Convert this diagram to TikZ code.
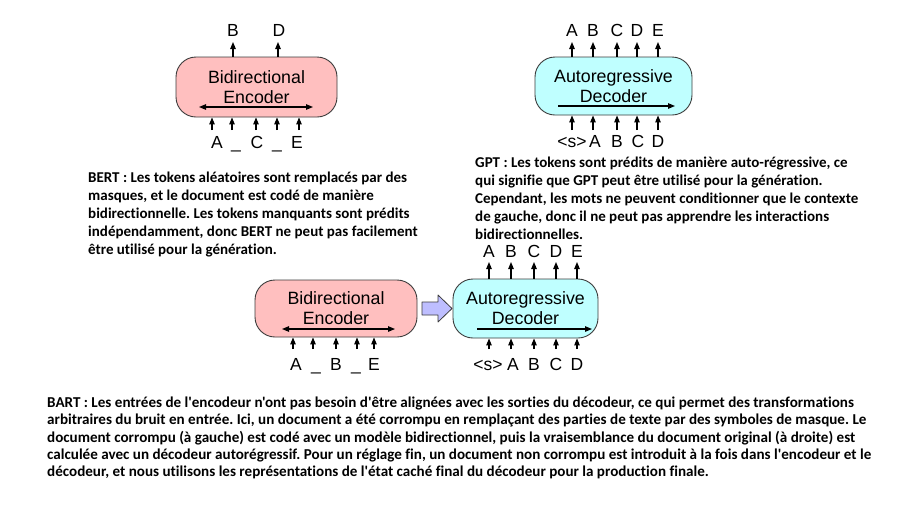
\documentclass[tikz,border=0pt]{standalone}
\usepackage{fontspec}
\setmainfont{Liberation Sans}
\newfontfamily\parafont[Ligatures=NoCommon]{Carlito}
\usetikzlibrary{arrows.meta,calc}
\definecolor{encpink}{RGB}{255,191,191}
\definecolor{deccyan}{RGB}{191,255,255}
\definecolor{blkblue}{RGB}{190,190,255}
\definecolor{edgegray}{RGB}{60,60,60}
\frenchspacing
\begin{document}
\begin{tikzpicture}[x=1pt,y=-1pt,
  box/.style={draw=edgegray,line width=0.9pt,rounded corners=20pt,align=center,
    font=\fontsize{17.8}{20}\selectfont,inner sep=0pt},
  arr/.style={-{Triangle[length=7pt,width=5.5pt]},line width=1.1pt,black},
  darr/.style={{Triangle[length=7pt,width=5.5pt]}-{Triangle[length=7pt,width=5.5pt]},line width=1.1pt,black},
  tok/.style={font=\fontsize{17.5}{20}\selectfont,inner sep=0pt,anchor=base},
  para/.style={font=\parafont\bfseries\fontsize{15}{18}\selectfont\frenchspacing,align=left,anchor=north west,inner sep=0pt},
  paratwo/.style={font=\parafont\bfseries\fontsize{15.1}{17.1}\selectfont\frenchspacing,align=left,anchor=north west,inner sep=0pt}]
\useasboundingbox (0,0) rectangle (907,507);
\fill[white] (0,0) rectangle (907,507);

% ---------------- BERT ----------------
\node[box,fill=encpink,minimum width=161pt,minimum height=60pt] (bert) at (256.5,87) {Bidirectional\\Encoder};
\coordinate (bertl) at (199,107);
\coordinate (bertr) at (313,107);
\draw[darr] (bertl) -- (bertr);
\foreach \x/\n in {233/1,278/2}{
  \coordinate (bo\n) at (\x,42);
  \draw[arr] (bo\n |- bert.north) -- (bo\n);
}
\node[tok] (bB) at (233,36) {B};
\node[tok] (bD) at (279,36) {D};
\foreach \x/\n in {212/1,232/2,256/3,277/4,299/5}{
  \coordinate (bi\n) at (\x,130);
  \draw[arr] (bi\n) -- (bi\n |- bert.south);
}
\node[tok] (bA) at (217,148) {A};
\node[tok] (bu1) at (236,148) {\_};
\node[tok] (bC) at (257,148) {C};
\node[tok] (bu2) at (277,148) {\_};
\node[tok] (bE) at (297,148) {E};

% ---------------- GPT ----------------
\node[box,fill=deccyan,minimum width=157pt,minimum height=58pt] (gpt) at (613.5,86) {Autoregressive\\Decoder};
\coordinate (gptl) at (558,106);
\coordinate (gptr) at (675,106);
\draw[arr] (gptl) -- (gptr);
\foreach \x/\n/\t in {572/1/A,593/2/B,617/3/C,637/4/D,658/5/E}{
  \coordinate (go\n) at (\x,42);
  \draw[arr] (go\n |- gpt.north) -- (go\n);
  \node[tok] (gol\n) at (\x,36) {\t};
}
\foreach \x/\n in {572/1,593/2,617/3,637/4,658/5}{
  \coordinate (gi\n) at (\x,130);
  \draw[arr] (gi\n) -- (gi\n |- gpt.south);
}
\node[tok] (gs) at (572,147) {<s>};
\node[tok] (gA) at (595,147) {A};
\node[tok] (gB) at (617,147) {B};
\node[tok] (gC) at (638,147) {C};
\node[tok] (gD) at (658,147) {D};

% ---------------- BART ----------------
\node[box,fill=encpink,minimum width=162pt,minimum height=57pt] (enc) at (336,308.5) {Bidirectional\\Encoder};
\coordinate (encl) at (282,329);
\coordinate (encr) at (395,329);
\draw[darr] (encl) -- (encr);
\foreach \x/\n in {293/1,313/2,336/3,357/4,374/5}{
  \coordinate (ei\n) at (\x,349);
  \draw[arr] (ei\n) -- (ei\n |- enc.south);
}
\node[tok] (eA) at (296,370) {A};
\node[tok] (eu1) at (316,370) {\_};
\node[tok] (eB) at (336,370) {B};
\node[tok] (eu2) at (356,370) {\_};
\node[tok] (eE) at (374,370) {E};

\node[box,fill=deccyan,minimum width=145pt,minimum height=59pt] (dec) at (525.5,308.5) {Autoregressive\\Decoder};
\coordinate (decl) at (477,329);
\coordinate (decr) at (592,329);
\draw[arr] (decl) -- (decr);
\foreach \x/\n/\t in {489/1/A,511/2/B,534/3/C,556/4/D,577/5/E}{
  \coordinate (do\n) at (\x,262);
  \draw[arr] (do\n |- dec.north) -- (do\n);
  \node[tok] (dol\n) at (\x,257) {\t};
}
\foreach \x/\n in {489/1,511/2,534/3,556/4,577/5}{
  \coordinate (di\n) at (\x,349);
  \draw[arr] (di\n) -- (di\n |- dec.south);
}
\node[tok] (ds) at (488,370) {<s>};
\node[tok] (dA) at (513,370) {A};
\node[tok] (dB) at (534,370) {B};
\node[tok] (dC) at (556,370) {C};
\node[tok] (dD) at (577,370) {D};

% block arrow from encoder to decoder
\draw[edgegray,line width=0.8pt,fill=blkblue,line join=round]
  (422,302) -- (438,302) -- (438,295) -- (452,308.5) -- (438,322) -- (438,315) -- (422,315) -- cycle;

% ---------------- captions ----------------
\node[para] (bertcap) at (88,172) {BERT : Les tokens aléatoires sont remplacés par des\\
masques, et le document est codé de manière\\
bidirectionnelle. Les tokens manquants sont prédits\\
indépendamment, donc BERT ne peut pas facilement\\
être utilisé pour la génération.};

\node[para] (gptcap) at (475,157) {GPT : Les tokens sont prédits de manière auto-régressive, ce\\
qui signifie que GPT peut être utilisé pour la génération.\\
Cependant, les mots ne peuvent conditionner que le contexte\\
de gauche, donc il ne peut pas apprendre les interactions\\
bidirectionnelles.};

\node[paratwo] (bartcap) at (47,397) {BART : Les entrées de l'encodeur n'ont pas besoin d'être alignées avec les sorties du décodeur, ce qui permet des transformations\\
arbitraires du bruit en entrée. Ici, un document a été corrompu en remplaçant des parties de texte par des symboles de masque. Le\\
document corrompu (à gauche) est codé avec un modèle bidirectionnel, puis la vraisemblance du document original (à droite) est\\
calculée avec un décodeur autorégressif. Pour un réglage fin, un document non corrompu est introduit à la fois dans l'encodeur et le\\
décodeur, et nous utilisons les représentations de l'état caché final du décodeur pour la production finale.};
\end{tikzpicture}
\end{document}
